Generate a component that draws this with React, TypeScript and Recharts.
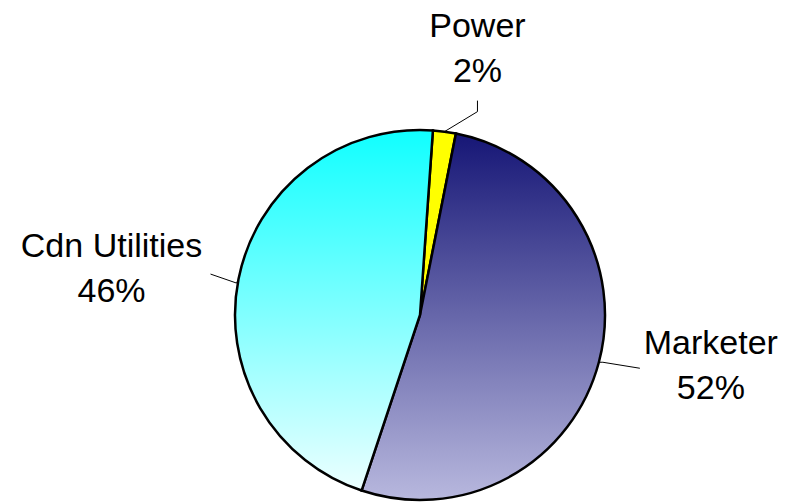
import React from "react";
import { PieChart, Pie, Cell } from "recharts";

const categories = ["Power", "Marketer", "Cdn Utilities"];
const shares = [2, 52, 46];
const percentLabels = ["2%", "52%", "46%"];

const data = categories.map((name, i) => ({ name, value: shares[i], pct: percentLabels[i] }));

const fills = ["#ffff00", "url(#gradMarketer)", "url(#gradCdn)"];

// label layout: elbow offset from edge point, text anchor offset from edge point
const labelLayout: Record<string, { elbow: [number, number]; end: [number, number]; text: [number, number] }> = {
  Power: { elbow: [33, -20], end: [33, -31], text: [33, -95] },
  Marketer: { elbow: [4, 0], end: [41, 6], text: [112, -8] },
  "Cdn Utilities": { elbow: [-2, 4], end: [-28, -5], text: [-127, -22] },
};

const RAD = Math.PI / 180;

const renderLabel = (props: any) => {
  const { cx, cy, midAngle, outerRadius, payload, name } = props;
  const nm = name ?? payload?.name;
  const lay = labelLayout[nm];
  if (!lay) return null;
  const ex = cx + outerRadius * Math.cos(-midAngle * RAD);
  const ey = cy + outerRadius * Math.sin(-midAngle * RAD);
  const pts = [
    [ex, ey],
    [ex + lay.elbow[0], ey + lay.elbow[1]],
    [ex + lay.end[0], ey + lay.end[1]],
  ]
    .map((p) => p.join(","))
    .join(" ");
  const tx = ex + lay.text[0];
  const ty = ey + lay.text[1];
  const pct = payload?.pct ?? percentLabels[categories.indexOf(nm)];
  return (
    <g>
      <polyline points={pts} fill="none" stroke="#000" strokeWidth={1} />
      <text
        x={tx}
        y={ty}
        textAnchor="middle"
        fontFamily="'Liberation Sans', Arial, sans-serif"
        fontSize={34}
        fill="#000"
      >
        <tspan x={tx} dy={0}>{nm}</tspan>
        <tspan x={tx} dy={45}>{pct}</tspan>
      </text>
    </g>
  );
};

export default function App() {
  return (
    <div style={{ position: "absolute", left: 0, top: 0, width: 795, height: 504, background: "#fff" }}>
      <PieChart width={795} height={504} margin={{ top: 0, right: 0, bottom: 0, left: 0 }}>
        <defs>
          <linearGradient id="gradMarketer" x1="0" y1="0" x2="0" y2="1">
            <stop offset="0%" stopColor="#161676" />
            <stop offset="100%" stopColor="#b8b8de" />
          </linearGradient>
          <linearGradient id="gradCdn" x1="0" y1="0" x2="0" y2="1">
            <stop offset="0%" stopColor="#10ffff" />
            <stop offset="100%" stopColor="#ecffff" />
          </linearGradient>
        </defs>
        <Pie
          data={data}
          dataKey="value"
          nameKey="name"
          cx={420}
          cy={315}
          outerRadius={185}
          startAngle={86}
          endAngle={-274}
          stroke="#000"
          strokeWidth={2.5}
          labelLine={false}
          label={renderLabel}
          isAnimationActive={false}
        >
          {data.map((d, i) => (
            <Cell key={d.name} fill={fills[i]} />
          ))}
        </Pie>
      </PieChart>
    </div>
  );
}
